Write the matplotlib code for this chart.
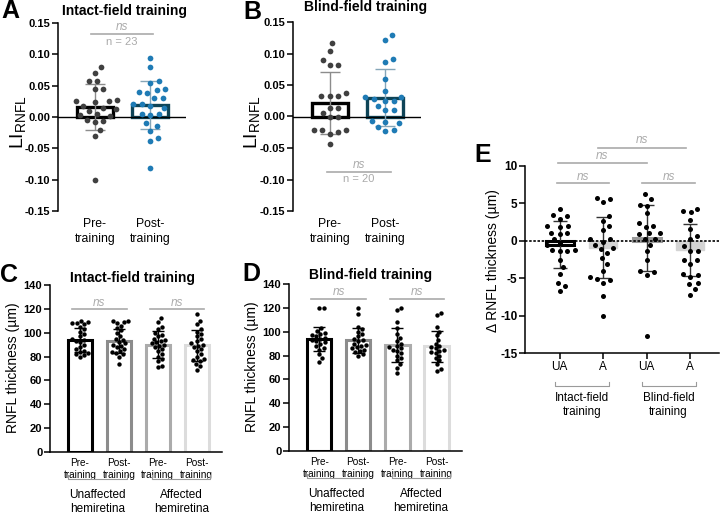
import matplotlib
matplotlib.use("Agg")
import matplotlib.pyplot as plt
from matplotlib.ticker import FormatStrFormatter
from matplotlib.transforms import blended_transform_factory
import numpy as np

plt.rcParams["font.family"] = ["Liberation Sans", "DejaVu Sans"]
plt.rcParams["axes.unicode_minus"] = False

W, H = 720, 514

# A / B: laterality index of RNFL, pre vs post training
li_groups = ["Pre-\ntraining", "Post-\ntraining"]
A_pre = [0.080, 0.070, 0.058, 0.057, 0.045, 0.044, 0.027, 0.025, 0.024, 0.026, 0.018, 0.015,
         0.012, 0.010, 0.005, 0.003, 0.002, -0.005, -0.008, -0.007, -0.020, -0.031, -0.101]
A_post = [0.094, 0.079, 0.057, 0.055, 0.043, 0.045, 0.040, 0.038, 0.030, 0.030, 0.020, 0.020,
          0.018, 0.015, 0.005, 0.005, 0.003, -0.010, -0.014, -0.022, -0.033, -0.038, -0.081]
A_mean = [0.016, 0.019]
A_sd = [0.037, 0.038]
B_pre = [0.117, 0.104, 0.089, 0.082, 0.082, 0.038, 0.033, 0.033, 0.033, 0.013, 0.013, 0.006,
         -0.001, -0.001, -0.021, -0.022, -0.022, -0.025, -0.028, -0.043]
B_post = [0.129, 0.121, 0.092, 0.086, 0.059, 0.041, 0.031, 0.031, 0.028, 0.024, 0.024, 0.016,
          0.010, 0.010, -0.007, -0.009, -0.011, -0.016, -0.022, -0.023]
B_mean = [0.022, 0.030]
B_sd = [0.049, 0.045]

# C / D: RNFL thickness per hemiretina
th_groups = ["Pre-\ntraining", "Post-\ntraining", "Pre-\ntraining", "Post-\ntraining"]
hemi_labels = ["Unaffected\nhemiretina", "Affected\nhemiretina"]
C_vals = [
    [110, 109, 108, 108, 107, 105, 103, 101, 99, 97, 95, 94, 93, 92, 90, 88, 86, 85, 84, 83, 82, 81, 80],
    [110, 110, 109, 108, 106, 104, 102, 100, 97, 95, 94, 92, 91, 90, 89, 88, 86, 85, 84, 83, 82, 80, 74],
    [112, 109, 105, 103, 100, 98, 97, 95, 94, 93, 92, 91, 90, 89, 88, 86, 85, 82, 80, 78, 76, 72, 71],
    [116, 110, 107, 103, 101, 99, 97, 95, 93, 91, 90, 89, 88, 86, 85, 82, 80, 78, 77, 76, 74, 72, 69],
]
C_mean = [94, 93, 90, 89.5]
C_sd = [10, 10, 11.5, 13]
D_vals = [
    [120, 120, 103, 101, 99, 98, 97, 96, 95, 94, 93, 92, 91, 90, 88, 86, 85, 81, 78, 75],
    [120, 115, 104, 102, 100, 98, 96, 94, 93, 92, 90, 89, 88, 87, 86, 85, 84, 83, 81, 80],
    [120, 118, 108, 103, 98, 95, 92, 90, 88, 87, 86, 85, 84, 82, 80, 78, 76, 73, 70, 65],
    [116, 114, 104, 100, 97, 93, 90, 88, 87, 86, 85, 84, 83, 82, 80, 78, 76, 73, 69, 67],
]
D_mean = [94, 93, 89, 88]
D_sd = [10, 10.5, 14.5, 13]

# E: change in RNFL thickness
E_groups = ["UA", "A", "UA", "A"]
E_train = ["Intact-field\ntraining", "Blind-field\ntraining"]
E_vals = [
    [4.3, 3.4, 3.3, 2.9, 2.0, 2.0, 1.9, 1.1, 1.0, 0.9, 0.2, -0.3, -1.2, -1.3, -1.2, -0.5, -1.3,
     -2.6, -3.5, -4.4, -5.6, -6.0, -6.7],
    [5.7, 5.6, 5.2, 3.3, 2.6, 2.0, 1.4, 0.3, 0.2, -0.1, -0.5, -0.9, -1.1, -1.6, -2.3, -3.1, -4.0,
     -5.2, -5.1, -4.8, -5.7, -7.4, -10.0],
    [6.3, 5.6, 4.8, 4.7, 3.7, 2.4, 2.0, 1.9, 1.0, 1.0, 0.9, 0.2, 0.3, -0.5, -1.4, -2.5, -4.1, -4.2,
     -4.6, -12.7],
    [4.3, 4.0, 3.8, 2.8, 1.6, 0.7, 0.3, -0.7, -1.3, -1.3, -2.5, -2.6, -3.1, -4.4, -4.6, -4.8, -5.6,
     -5.8, -6.5, -7.3],
]
E_mean = [-0.5, -0.9, 0.4, -1.2]
E_sd = [3.1, 4.1, 4.45, 3.5]

NS_COL = "#aaaaaa"


def box(l, t, r, b):
    return [l / W, 1 - b / H, (r - l) / W, (b - t) / H]


def swarm_x(ax, xc, vals, d):
    # simple beeswarm in pixel space
    vals = np.asarray(vals, float)
    pts = ax.transData.transform(np.column_stack([np.full(len(vals), xc), vals]))
    placed = []
    xs = np.zeros(len(vals))
    for i in np.argsort(pts[:, 1]):
        x0, y0 = pts[i]
        near = [(px, py) for px, py in placed if abs(py - y0) < d]
        cands = [0.0]
        for px, py in near:
            dx = np.sqrt(d ** 2 - (py - y0) ** 2)
            cands += [px - x0 + dx + 0.01, px - x0 - dx - 0.01]
        for c in sorted(cands, key=abs):
            if all((px - x0 - c) ** 2 + (py - y0) ** 2 >= d ** 2 - 0.1 for px, py in near):
                break
        placed.append((x0 + c, y0))
        xs[i] = x0 + c
    return ax.transData.inverted().transform(np.column_stack([xs, pts[:, 1]]))[:, 0]


def ftext(x, y, s, **kw):
    fig.text(x / W, 1 - y / H, s, ha=kw.pop("ha", "center"), va=kw.pop("va", "center"), **kw)


def bracket(ax, x0, x1, ypx, label, ylab, size):
    tr = blended_transform_factory(ax.transData, fig.transFigure)
    y = 1 - ypx / H
    dy = 4 / H
    ax.plot([x0, x0, x1, x1], [y + dy, y, y, y + dy], color="#9a9a9a", lw=0.8,
            transform=tr, clip_on=False)
    ax.text((x0 + x1) / 2, 1 - ylab / H, label, transform=tr, ha="center", va="center",
            fontsize=size, linespacing=1.3)


def ns_line(ax, x0, x1, y, ty, size=8.5):
    ax.plot([x0, x1], [y, y], color=NS_COL, lw=1.2, clip_on=False)
    ax.text((x0 + x1) / 2, ty, "ns", style="italic", color=NS_COL, ha="center",
            va="center", fontsize=size, clip_on=False)


def bold_ticks(ax, size):
    ax.tick_params(axis="y", labelsize=size, length=4, width=1.1, pad=1.5)
    for lab in ax.get_yticklabels():
        lab.set_fontweight("bold")


def li_panel(ax, pre, post, mean, sd):
    ax.set_xlim(-0.67, 1.65)
    ax.set_ylim(-0.15, 0.15)
    ax.set_yticks(np.arange(-0.15, 0.151, 0.05))
    ax.yaxis.set_major_formatter(FormatStrFormatter("%.2f"))
    for s in ["top", "right", "bottom"]:
        ax.spines[s].set_visible(False)
    ax.spines["left"].set_linewidth(1.1)
    ax.bar([0, 1], mean, width=0.65, facecolor="none", edgecolor=["black", "#0e4457"],
           linewidth=2.4, zorder=2)
    ax.axhline(0, color="black", lw=1, zorder=2.2)
    for i, (vals, col, ecol) in enumerate([(pre, "#404040", "#8c8c8c"),
                                           (post, "#1f7bb5", "#86a6b8")]):
        ax.errorbar(i, mean[i], yerr=sd[i], fmt="none", ecolor=ecol, elinewidth=1,
                    capsize=7.5, capthick=1, zorder=2.5)
        ax.scatter(swarm_x(ax, i, vals, 8.5), vals, s=17, color=col, lw=0, zorder=3)
    ax.set_xticks([0, 1])
    ax.set_xticklabels(li_groups, fontsize=8.8, linespacing=1.3)
    ax.tick_params(axis="x", length=0, pad=5)
    bold_ticks(ax, 8)


def th_panel(ax, vals, mean, sd):
    ax.set_xlim(-0.77, 3.65)
    ax.set_ylim(0, 140)
    ax.set_yticks(np.arange(0, 141, 20))
    for s in ["top", "right"]:
        ax.spines[s].set_visible(False)
    ax.spines["left"].set_linewidth(1.1)
    ax.spines["bottom"].set_linewidth(1.1)
    ax.bar(range(4), mean, width=0.62, facecolor="white",
           edgecolor=["black", "#8c8c8c", "#ababab", "#dcdcdc"], linewidth=2.2, zorder=2)
    for i in range(4):
        ax.errorbar(i, mean[i], yerr=sd[i], fmt="none", ecolor="black", elinewidth=1,
                    capsize=4, capthick=1, zorder=2.5)
        ax.scatter(swarm_x(ax, i, vals[i], 4.6), vals[i], s=10, color="black", lw=0, zorder=3)
    ax.set_xticks(range(4))
    ax.set_xticklabels(th_groups, fontsize=7.2, linespacing=1.25)
    ax.tick_params(axis="x", length=0, pad=4)
    bold_ticks(ax, 8)


fig = plt.figure(figsize=(W / 100, H / 100), dpi=100)

# ---- A ----
axA = fig.add_axes(box(58, 23, 186, 211))
li_panel(axA, A_pre, A_post, A_mean, A_sd)
ns_line(axA, -0.08, 1.05, 0.133, 0.144)
axA.text(0.49, 0.120, "n = 23", color=NS_COL, ha="center", va="center", fontsize=8)
ftext(10, 11, "A", fontsize=18, fontweight="bold")
ftext(125, 11, "Intact-field training", fontsize=10, fontweight="bold")
ftext(19, 122, r"LI$_{\mathregular{RNFL}}$", fontsize=14, rotation=90)

# ---- B ----
axB = fig.add_axes(box(293, 22, 421, 211))
li_panel(axB, B_pre, B_post, B_mean, B_sd)
ns_line(axB, -0.05, 1.1, -0.0886, -0.077)
axB.text(0.52, -0.099, "n = 20", color=NS_COL, ha="center", va="center", fontsize=8)
ftext(252, 12, "B", fontsize=18, fontweight="bold")
ftext(366, 7, "Blind-field training", fontsize=10, fontweight="bold")
ftext(253, 122, r"LI$_{\mathregular{RNFL}}$", fontsize=14, rotation=90)

# ---- C ----
axC = fig.add_axes(box(50, 285, 222, 452))
th_panel(axC, C_vals, C_mean, C_sd)
ns_line(axC, -0.2, 1.2, 119.7, 125)
ns_line(axC, 1.8, 3.2, 119.7, 125)
bracket(axC, -0.3, 1.2, 479, hemi_labels[0], 502, 8.5)
bracket(axC, 1.85, 3.35, 479, hemi_labels[1], 502, 8.5)
ftext(9, 275, "C", fontsize=18, fontweight="bold")
ftext(133, 278, "Intact-field training", fontsize=10, fontweight="bold")
ftext(13, 368, "RNFL thickness (µm)", fontsize=10, rotation=90)

# ---- D ----
axD = fig.add_axes(box(289, 284, 462, 451))
th_panel(axD, D_vals, D_mean, D_sd)
ns_line(axD, -0.2, 1.2, 127.5, 133)
ns_line(axD, 1.8, 3.2, 127.5, 133)
bracket(axD, -0.3, 1.2, 478, hemi_labels[0], 501, 8.5)
bracket(axD, 1.85, 3.35, 478, hemi_labels[1], 501, 8.5)
ftext(251, 274, "D", fontsize=18, fontweight="bold")
ftext(371, 275, "Blind-field training", fontsize=10, fontweight="bold")
ftext(252, 367, "RNFL thickness (µm)", fontsize=10, rotation=90)

# ---- E ----
axE = fig.add_axes(box(525, 166, 719, 353))
axE.set_xlim(-0.8, 3.66)
axE.set_ylim(-15, 10)
axE.set_yticks(np.arange(-15, 11, 5))
for s in ["top", "right"]:
    axE.spines[s].set_visible(False)
axE.spines["left"].set_linewidth(1.1)
axE.spines["bottom"].set_linewidth(1.1)
axE.bar([0, 2], [E_mean[0], E_mean[2]], width=0.65, facecolor="none",
        edgecolor=["black", "#9a9a9a"], linewidth=2.2, zorder=2)
axE.bar([1, 3], [E_mean[1], E_mean[3]], width=0.65, facecolor="#d4d4d4",
        edgecolor="#d4d4d4", linewidth=1, zorder=2)
axE.axhline(0, color="black", lw=1.2, ls=(0, (1.5, 1)), zorder=2.2)
for i in range(4):
    axE.errorbar(i, E_mean[i], yerr=E_sd[i], fmt="none", ecolor="#333333", elinewidth=1,
                 capsize=5, capthick=1, zorder=2.5)
    axE.scatter(swarm_x(axE, i, E_vals[i], 7.5), E_vals[i], s=13, color="black", lw=0,
                zorder=3)
axE.set_xticks(range(4))
axE.set_xticklabels(E_groups, fontsize=8.5)
axE.tick_params(axis="x", length=4, width=1.1, pad=2)
bold_ticks(axE, 8.5)
ns_line(axE, 0.87, 2.9, 12.4, 13.5)
ns_line(axE, -0.05, 2.0, 10.35, 11.3)
ns_line(axE, -0.07, 1.12, 7.7, 8.5)
ns_line(axE, 1.9, 3.1, 7.7, 8.5)
bracket(axE, -0.11, 1.12, 386, E_train[0], 405, 8.5)
bracket(axE, 1.88, 3.12, 386, E_train[1], 405, 8.5)
ftext(483, 155, "E", fontsize=18, fontweight="bold")
ftext(493, 261, "Δ RNFL thickness (µm)", fontsize=10, rotation=90)

fig.savefig("out.png", dpi=100)
